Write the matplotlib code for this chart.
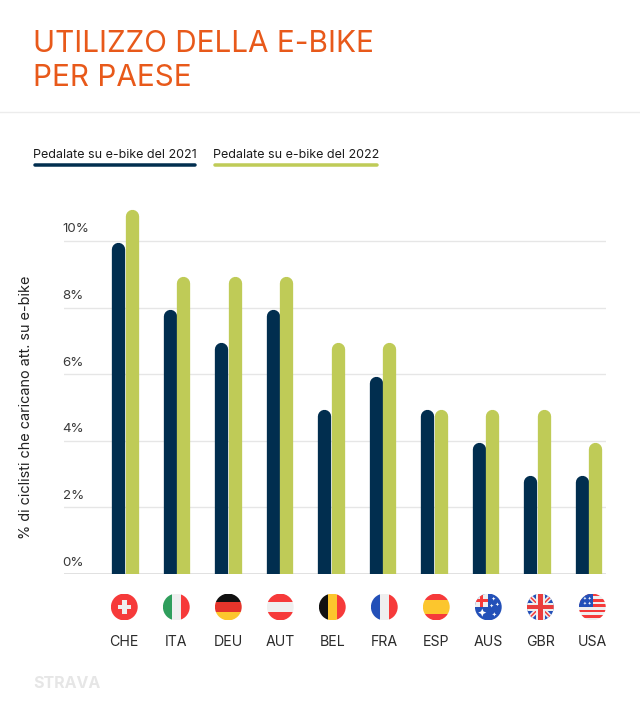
import matplotlib
matplotlib.use('Agg')
import matplotlib.pyplot as plt
from matplotlib.patches import Circle, Rectangle, Polygon

plt.rcParams['font.family'] = ['Inter', 'DejaVu Sans']

countries = ['CHE', 'ITA', 'DEU', 'AUT', 'BEL', 'FRA', 'ESP', 'AUS', 'GBR', 'USA']
rides_2021 = [10, 8, 7, 8, 5, 6, 5, 4, 3, 3]
rides_2022 = [11, 9, 9, 9, 7, 7, 5, 5, 5, 4]
y_ticks = [0, 2, 4, 6, 8, 10]

W, H = 640, 712
PX = 72 / 100  # one pixel in points
NAVY = '#012e4f'
LIME = '#bfcb57'
RED = '#f63a3a'
BLUE = '#2350b8'
WHITE = '#efefef'

fig = plt.figure(figsize=(W / 100, H / 100), dpi=100, facecolor='white')

# main chart
top_px = 190
step = 51.5
ax = fig.add_axes([64 / W, 1 - 574 / H, (606 - 64) / W, (574 - top_px) / H])
ax.set_ylim(0, (574 - top_px) / 33.3)
ax.set_xlim((64 - 125) / step, (606 - 125) / step)
for s in ax.spines.values():
    s.set_visible(False)
ax.patch.set_alpha(0)

cap = 0.25  # rounded end stays under the value
off = 6.6 / step
for i, (a, b) in enumerate(zip(rides_2021, rides_2022)):
    ax.plot([i - off, i - off], [-1, a - cap], color=NAVY, lw=13.3 * PX, solid_capstyle='round', zorder=3)
    ax.plot([i + off, i + off], [-1, b - cap], color=LIME, lw=13.3 * PX, solid_capstyle='round', zorder=3)

ax.set_yticks(y_ticks)
ax.set_yticklabels([])
ax.grid(axis='y', color='#e6e6e6', lw=1)
ax.tick_params(axis='y', length=0)
ax.axhline(0, color='#dcdcdc', lw=1.2, zorder=1)
for t in y_ticks:
    ax.annotate(f'{t}%', (0, t), xycoords=('axes fraction', 'data'), xytext=(-1.5 * PX, 8.5 * PX),
                textcoords='offset points', ha='left', va='baseline', fontsize=9.6, color='#3a3a3a')

# labels and flags sit on a slightly wider spacing than the bars
label_x = [(124.3 + 52 * i - 125) / step for i in range(len(countries))]
ax.set_xticks(label_x)
ax.set_xticklabels(countries, fontsize=10.2, color='#2b2b2b')
ax.tick_params(axis='x', length=0, pad=61 * PX)

fig.text(26 / W, 1 - 407.5 / H, '% di ciclisti che caricano att. su e-bike', rotation=90,
         ha='center', va='center', fontsize=10.4, color='#222222')

# overlay in pixel coordinates
ov = fig.add_axes([0, 0, 1, 1], zorder=5)
ov.set_xlim(0, W)
ov.set_ylim(H, 0)
ov.axis('off')
ov.patch.set_alpha(0)

ov.text(33, 52, 'UTILIZZO DELLA E-BIKE', fontsize=21.4, color='#e8591a', va='baseline', ha='left')
ov.text(33, 86, 'PER PAESE', fontsize=21.4, color='#e8591a', va='baseline', ha='left')
ov.plot([0, W], [112, 112], color='#ececec', lw=1)

ov.text(33, 157.5, 'Pedalate su e-bike del 2021', fontsize=9, color='#1c1c1c', va='baseline', ha='left')
ov.text(213, 157.5, 'Pedalate su e-bike del 2022', fontsize=9, color='#1c1c1c', va='baseline', ha='left')
ov.plot([35, 195], [164.5, 164.5], color=NAVY, lw=3.5 * PX, solid_capstyle='round')
ov.plot([215, 377], [164.5, 164.5], color=LIME, lw=3.5 * PX, solid_capstyle='round')

ov.text(33, 684, 'STRAVA', fontsize=11.5, fontweight='bold', color='#e6e6e6', va='center', ha='left')


# flags: every shape is in -1..1 and clipped by the circle
def flag(i, shapes):
    cx, cy, r = ax.transData.transform((label_x[i], 0))[0], 607, 13.4
    clip = Circle((cx, cy), r, transform=ov.transData)
    for kind, pts, col in shapes:
        if kind == 'r':
            x, y, w, h = pts
            p = Rectangle((cx + x * r, cy + y * r), w * r, h * r, fc=col, ec='none')
        else:
            p = Polygon([(cx + x * r, cy + y * r) for x, y in pts], fc=col, ec='none')
        ov.add_patch(p)
        p.set_clip_path(clip)


def diag(x1, y1, x2, y2, t, col):
    return ('p', [(x1 - t, y1 - t), (x1 + t, y1 + t), (x2 + t, y2 + t), (x2 - t, y2 - t)], col)


def star(x, y, s):
    return ('p', [(x, y - s), (x + s * 0.3, y - s * 0.3), (x + s, y), (x + s * 0.3, y + s * 0.3),
                  (x, y + s), (x - s * 0.3, y + s * 0.3), (x - s, y), (x - s * 0.3, y - s * 0.3)], 'white')


fig.canvas.draw()
flag(0, [('r', (-1, -1, 2, 2), RED), ('r', (-0.5, -0.18, 1, 0.36), WHITE), ('r', (-0.18, -0.5, 0.36, 1), WHITE)])
flag(1, [('r', (-1, -1, 0.66, 2), '#2f9e5c'), ('r', (-0.34, -1, 0.68, 2), WHITE), ('r', (0.34, -1, 0.66, 2), RED)])
flag(2, [('r', (-1, -1, 2, 0.66), '#111111'), ('r', (-1, -0.34, 2, 0.68), '#e5352b'), ('r', (-1, 0.34, 2, 0.66), '#fcc62d')])
flag(3, [('r', (-1, -1, 2, 0.66), RED), ('r', (-1, -0.34, 2, 0.68), WHITE), ('r', (-1, 0.34, 2, 0.66), RED)])
flag(4, [('r', (-1, -1, 0.66, 2), '#111111'), ('r', (-0.34, -1, 0.68, 2), '#fcc62d'), ('r', (0.34, -1, 0.66, 2), RED)])
flag(5, [('r', (-1, -1, 0.66, 2), BLUE), ('r', (-0.34, -1, 0.68, 2), WHITE), ('r', (0.34, -1, 0.66, 2), RED)])
flag(6, [('r', (-1, -1, 2, 0.5), RED), ('r', (-1, -0.5, 2, 1), '#fcc62d'), ('r', (-1, 0.5, 2, 0.5), RED)])
flag(7, [('r', (-1, -1, 2, 2), BLUE), ('r', (-1, -1, 1, 1), WHITE),
         diag(-0.95, -0.95, 0, 0, 0.08, RED), ('r', (-0.62, -1, 0.24, 1), RED), ('r', (-1, -0.62, 1, 0.24), RED),
         star(-0.45, 0.42, 0.3), star(0.4, -0.62, 0.14), star(0.68, -0.2, 0.14), star(0.25, -0.1, 0.14),
         star(0.45, 0.55, 0.16)])
flag(8, [('r', (-1, -1, 2, 2), BLUE),
         ('p', [(-1.25, -1), (-1, -1.25), (1.25, 1), (1, 1.25)], WHITE),
         ('p', [(1.25, -1), (1, -1.25), (-1.25, 1), (-1, 1.25)], WHITE),
         ('p', [(-1.08, -1), (-1, -1.08), (1.08, 1), (1, 1.08)], RED),
         ('p', [(1.08, -1), (1, -1.08), (-1.08, 1), (-1, 1.08)], RED),
         ('r', (-1, -0.32, 2, 0.64), WHITE), ('r', (-0.32, -1, 0.64, 2), WHITE),
         ('r', (-1, -0.18, 2, 0.36), '#ea3d3d'), ('r', (-0.18, -1, 0.36, 2), '#ea3d3d')])
stripes = [('r', (-1, -1 + k * 0.4, 2, 0.2), RED) for k in range(5)]
flag(9, [('r', (-1, -1, 2, 2), WHITE)] + stripes + [('r', (-1, -1, 1.05, 1), BLUE),
         star(-0.55, -0.65, 0.12), star(-0.2, -0.65, 0.12), star(-0.55, -0.28, 0.12), star(-0.2, -0.28, 0.12)])

fig.savefig('out.png', dpi=100)
